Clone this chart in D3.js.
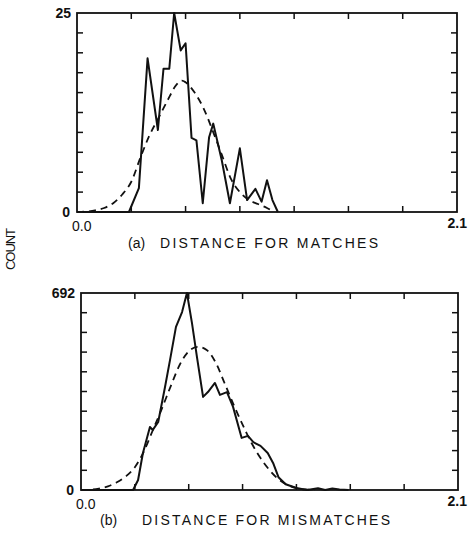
<!DOCTYPE html>
<html>
<head>
<meta charset="utf-8">
<script src="https://cdn.jsdelivr.net/npm/d3@7"></script>
<style>
  body { margin: 0; background: #fff; }
  svg { display: block; font-family: "Liberation Sans", Arial, sans-serif; }
  .frame { fill: none; stroke: #111; stroke-width: 1.8; }
  .tick-mark { stroke: #111; stroke-width: 1.5; }
  .observed { fill: none; stroke: #111; stroke-width: 2; stroke-linejoin: round; }
  .fitted { fill: none; stroke: #111; stroke-width: 1.8; stroke-dasharray: 7 5; }
  .num { font-size: 14px; font-weight: bold; fill: #111; }
  .caption { font-size: 14px; fill: #111; }
</style>
</head>
<body>
<div id="chart"></div>
<script>
// x axis: distance, 0.0 .. 2.1, ticks every 0.3
const xTickValues = [0, 0.3, 0.6, 0.9, 1.2, 1.5, 1.8, 2.1];
const yDivisions = 10;

// (a) matches
const matchX = [0, 0.287, 0.342, 0.39, 0.447, 0.478, 0.51, 0.537, 0.573, 0.6, 0.633, 0.66, 0.695, 0.73, 0.753, 0.8, 0.845, 0.9, 0.94, 0.986, 1.02, 1.05, 1.08, 1.11];
const matchCount = [0, 0, 3.0, 19.3, 10.3, 18.0, 18.0, 25, 20.3, 21.2, 9.3, 9.0, 1.1, 9.4, 11.1, 6.5, 1.1, 8.0, 1.5, 2.9, 1.3, 4.0, 1.5, 0];
const matchFitX = [0, 0.05, 0.1, 0.15, 0.2, 0.25, 0.3, 0.35, 0.4, 0.45, 0.5, 0.55, 0.58, 0.6, 0.65, 0.7, 0.75, 0.8, 0.85, 0.9, 0.95, 1.0, 1.05, 1.09];
const matchFit = [0, 0.05, 0.2, 0.5, 1.1, 2.2, 3.8, 6.8, 9.6, 11.8, 14.0, 16.0, 16.5, 16.3, 15.0, 13.0, 10.2, 7.2, 4.2, 2.5, 1.5, 1.0, 0.5, 0];

// (b) mismatches
const misX = [0, 0.29, 0.318, 0.345, 0.384, 0.4, 0.43, 0.468, 0.496, 0.529, 0.563, 0.59, 0.618, 0.646, 0.68, 0.707, 0.746, 0.774, 0.813, 0.847, 0.895, 0.93, 0.96, 1.0, 1.04, 1.07, 1.1, 1.14, 1.2, 1.26, 1.32, 1.36, 1.4, 1.44, 1.49];
const misCount = [0, 0, 35, 130, 221, 211, 239, 362, 457, 573, 625, 692, 587, 467, 327, 344, 376, 334, 344, 292, 183, 190, 168, 155, 130, 95, 45, 20, 7, 0, 6, 0, 5, 2, 0];
const misFitX = [0, 0.05, 0.1, 0.15, 0.2, 0.25, 0.3, 0.35, 0.4, 0.45, 0.5, 0.55, 0.6, 0.65, 0.7, 0.75, 0.8, 0.85, 0.9, 0.95, 1.0, 1.05, 1.1, 1.15, 1.2, 1.25, 1.3];
const misFit = [0, 1, 5, 13, 27, 48, 80, 135, 210, 285, 365, 440, 487, 503, 492, 448, 375, 300, 230, 165, 112, 70, 38, 18, 7, 2, 0];

class HistPanel {
  constructor(_svg, _box, _obs, _fit, _yMax, _yLabel) {
    this.svg = _svg;
    this.box = _box;
    this.obs = _obs;
    this.fit = _fit;
    this.yMax = _yMax;
    this.yLabel = _yLabel;
    this.initVis();
  }

  initVis() {
    let vis = this;
    const b = vis.box;
    const len = 6;

    vis.x = d3.scaleLinear().domain([0, 2.1]).range([b.left, b.right]);
    vis.y = d3.scaleLinear().domain([0, vis.yMax]).range([b.bottom, b.top]);

    const yTicks = d3.range(1, yDivisions).map((i) => (vis.yMax * i) / yDivisions);
    const xInner = xTickValues.slice(1, -1);

    vis.g = vis.svg.append("g");

    // inward ticks, top and bottom
    vis.g
      .selectAll("line.xt")
      .data(xInner.flatMap((v) => [[v, b.bottom, -len], [v, b.top, len]]))
      .join("line")
      .attr("class", "tick-mark xt")
      .attr("x1", (d) => vis.x(d[0]))
      .attr("x2", (d) => vis.x(d[0]))
      .attr("y1", (d) => d[1])
      .attr("y2", (d) => d[1] + d[2]);

    // inward ticks, left and right
    vis.g
      .selectAll("line.yt")
      .data(yTicks.flatMap((v) => [[v, b.left, len], [v, b.right, -len]]))
      .join("line")
      .attr("class", "tick-mark yt")
      .attr("y1", (d) => vis.y(d[0]))
      .attr("y2", (d) => vis.y(d[0]))
      .attr("x1", (d) => d[1])
      .attr("x2", (d) => d[1] + d[2]);

    vis.g
      .append("rect")
      .attr("class", "frame")
      .attr("x", b.left)
      .attr("y", b.top)
      .attr("width", b.right - b.left)
      .attr("height", b.bottom - b.top);

    const line = d3.line().x((d) => vis.x(d[0])).y((d) => vis.y(d[1]));
    const smooth = d3
      .line()
      .curve(d3.curveMonotoneX)
      .x((d) => vis.x(d[0]))
      .y((d) => vis.y(d[1]));

    vis.g
      .append("path")
      .attr("class", "fitted")
      .attr("d", smooth(d3.zip(vis.fit.x, vis.fit.y)));

    vis.g
      .append("path")
      .attr("class", "observed")
      .attr("d", line(d3.zip(vis.obs.x, vis.obs.y)));

    // end labels only
    vis.g.append("text").attr("class", "num").attr("text-anchor", "end")
      .attr("x", b.left - 6).attr("y", vis.y(vis.yMax) + 5).text(vis.yLabel);
    vis.g.append("text").attr("class", "num").attr("text-anchor", "end")
      .attr("x", b.left - 7).attr("y", vis.y(0) + 5).text("0");
    vis.g.append("text").attr("class", "num").style("font-weight", "normal")
      .attr("x", vis.x(0) - 5).attr("y", b.bottom + 19).text("0.0");
    vis.g.append("text").attr("class", "num").attr("text-anchor", "end")
      .attr("x", 467).attr("y", b.bottom + 16).text("2.1");
  }
}

const width = 468;
const height = 550;

const svg = d3
  .select("#chart")
  .append("svg")
  .attr("width", width)
  .attr("height", height)
  .attr("viewBox", [0, 0, width, height]);

new HistPanel(svg, { left: 77, right: 457, top: 13, bottom: 212 },
  { x: matchX, y: matchCount }, { x: matchFitX, y: matchFit }, 25, "25");
new HistPanel(svg, { left: 81, right: 458, top: 293, bottom: 490 },
  { x: misX, y: misCount }, { x: misFitX, y: misFit }, 692, "692");

// captions and shared y title
function caption(tag, tagX, title, titleX, titleLen, y) {
  svg.append("text").attr("class", "caption").attr("x", tagX).attr("y", y).text(tag);
  svg.append("text").attr("class", "caption").attr("x", titleX).attr("y", y)
    .attr("textLength", titleLen).attr("lengthAdjust", "spacing").text(title);
}
caption("(a)", 128, "DISTANCE FOR MATCHES", 160, 218, 248);
caption("(b)", 100, "DISTANCE FOR MISMATCHES", 142, 248, 525);

svg.append("text")
  .attr("class", "caption")
  .attr("transform", "translate(15,249) rotate(-90)")
  .attr("text-anchor", "middle")
  .attr("textLength", 42)
  .attr("lengthAdjust", "spacing")
  .style("font-size", "13px")
  .text("COUNT");
</script>
</body>
</html>
